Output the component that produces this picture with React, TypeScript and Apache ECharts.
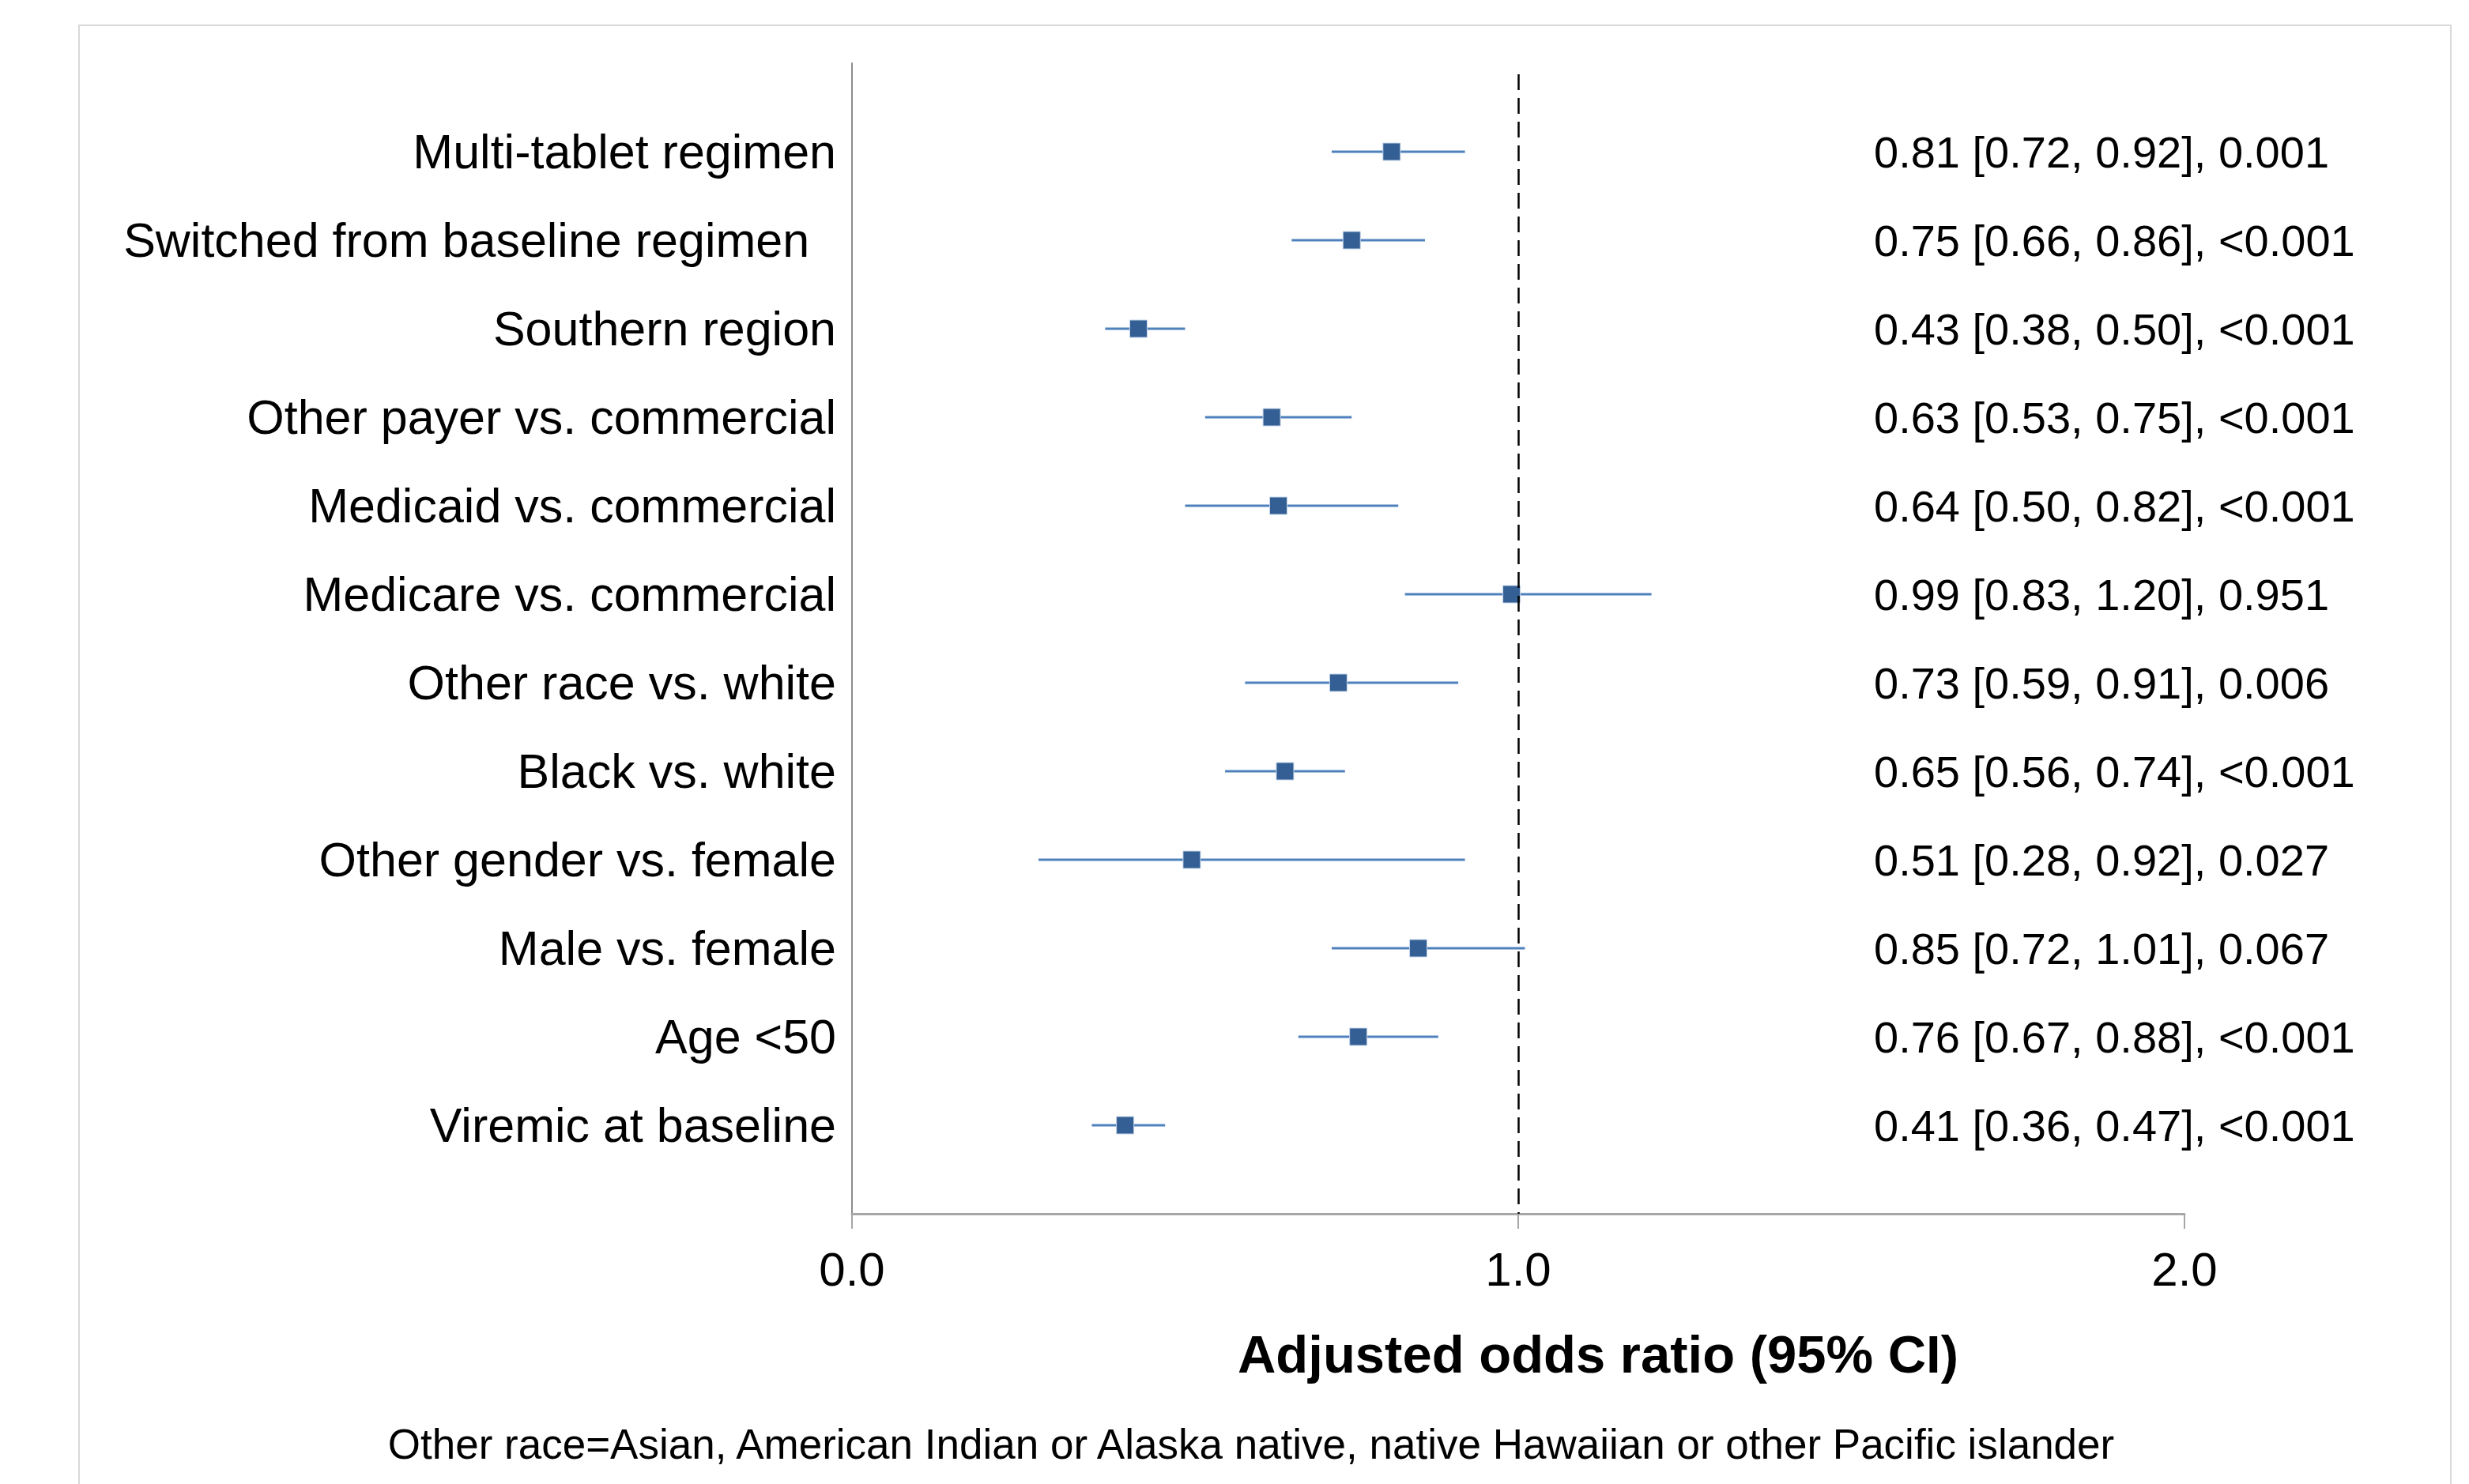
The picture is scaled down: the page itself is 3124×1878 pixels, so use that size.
import React, { useEffect, useRef } from "react";
import * as echarts from "echarts";

const categories = [
  "Multi-tablet regimen",
  "Switched from baseline regimen  ",
  "Southern region",
  "Other payer vs. commercial",
  "Medicaid vs. commercial",
  "Medicare vs. commercial",
  "Other race vs. white",
  "Black vs. white",
  "Other gender vs. female",
  "Male vs. female",
  "Age <50",
  "Viremic at baseline",
];
const oddsRatio = [0.81, 0.75, 0.43, 0.63, 0.64, 0.99, 0.73, 0.65, 0.51, 0.85, 0.76, 0.41];
const ciLow = [0.72, 0.66, 0.38, 0.53, 0.5, 0.83, 0.59, 0.56, 0.28, 0.72, 0.67, 0.36];
const ciHigh = [0.92, 0.86, 0.5, 0.75, 0.82, 1.2, 0.91, 0.74, 0.92, 1.01, 0.88, 0.47];
const pValues = ["0.001", "<0.001", "<0.001", "<0.001", "<0.001", "0.951", "0.006", "<0.001", "0.027", "0.067", "<0.001", "<0.001"];
const xTickLabels = ["0.0", "1.0", "2.0"];
const xAxisTitle = "Adjusted odds ratio (95% CI)";
const footnote = "Other race=Asian, American Indian or Alaska native, native Hawaiian or other Pacific islander";
const referenceValue = 1;

const FONT = "'Liberation Sans', Arial, sans-serif";

export default function App() {
  const ref = useRef<HTMLDivElement>(null);
  useEffect(() => {
    document.body.style.margin = "0";
    const chart = echarts.init(ref.current!, null, { renderer: "svg" });
    const n = categories.length;
    const rowY = (i: number) => n - i;
    const statText = categories.map(
      (_, i) => `${oddsRatio[i].toFixed(2)} [${ciLow[i].toFixed(2)}, ${ciHigh[i].toFixed(2)}], ${pValues[i]}`
    );
    const labelFor = (arr: string[]) => (v: number) => {
      const k = Math.round(v);
      if (k < 1 || k > n) return "";
      return arr[n - k];
    };
    chart.setOption({
      animation: false,
      backgroundColor: "#ffffff",
      textStyle: { fontFamily: FONT },
      graphic: [
        {
          type: "rect",
          shape: { x: 100, y: 32, width: 3001, height: 1900 },
          style: { fill: "none", stroke: "#d9d9d9", lineWidth: 2 },
          silent: true,
        },
        {
          type: "text",
          x: 1583,
          y: 1827,
          style: {
            text: footnote,
            fontFamily: FONT,
            fontSize: 53,
            fill: "#000",
            align: "center",
            verticalAlign: "middle",
          },
        },
      ],
      grid: { left: 1078, right: 360, top: 80, bottom: 342, containLabel: false },
      xAxis: {
        type: "value",
        min: 0,
        max: 2,
        interval: 1,
        name: xAxisTitle,
        nameLocation: "middle",
        nameGap: 144,
        nameTextStyle: {
          fontFamily: FONT,
          fontSize: 67,
          fontWeight: "bold",
          color: "#000",
          padding: [0, 0, 0, 202],
        },
        axisLine: { show: true, lineStyle: { color: "#a6a6a6", width: 3 } },
        axisTick: { show: true, length: 19, lineStyle: { color: "#a6a6a6", width: 2 } },
        axisLabel: {
          fontFamily: FONT,
          fontSize: 60,
          color: "#000",
          margin: 40,
          formatter: (v: number) => xTickLabels[Math.round(v)] ?? "",
        },
        splitLine: { show: false },
      },
      yAxis: [
        {
          type: "value",
          min: 0,
          max: n + 1,
          interval: 1,
          position: "left",
          axisLine: { show: true, lineStyle: { color: "#8c8c8c", width: 2 } },
          axisTick: { show: false },
          splitLine: { show: false },
          axisLabel: {
            fontFamily: FONT,
            fontSize: 61,
            color: "#000",
            margin: 20,
            formatter: labelFor(categories),
          },
        },
        {
          type: "value",
          min: 0,
          max: n + 1,
          interval: 1,
          position: "right",
          offset: -401,
          axisLine: { show: false },
          axisTick: { show: false },
          splitLine: { show: false },
          axisLabel: {
            fontFamily: FONT,
            fontSize: 56,
            color: "#000",
            margin: 8,
            align: "left",
            formatter: labelFor(statText),
          },
        },
      ],
      series: [
        {
          type: "custom",
          name: "CI",
          yAxisIndex: 0,
          data: categories.map((_, i) => [rowY(i), ciLow[i], ciHigh[i]]),
          encode: { x: [1, 2], y: 0 },
          renderItem: (params: any, api: any) => {
            const y = api.value(0);
            const p1 = api.coord([api.value(1), y]);
            const p2 = api.coord([api.value(2), y]);
            return {
              type: "line",
              shape: { x1: p1[0], y1: p1[1], x2: p2[0], y2: p2[1] },
              style: { stroke: "#4f81bd", lineWidth: 3 },
            };
          },
          z: 2,
        },
        {
          type: "scatter",
          name: "OR",
          yAxisIndex: 0,
          symbol: "rect",
          symbolSize: 22,
          data: categories.map((_, i) => [oddsRatio[i], rowY(i)]),
          itemStyle: { color: "#335f95", borderColor: "#c6d5ea", borderWidth: 1, opacity: 1 },
          z: 3,
          markLine: {
            silent: true,
            symbol: "none",
            label: { show: false },
            lineStyle: { color: "#000", type: [20, 10], width: 2.5 },
            data: [[{ coord: [referenceValue, n + 0.875] }, { coord: [referenceValue, 0] }]],
          },
        },
      ],
    });
    return () => chart.dispose();
  }, []);
  return <div ref={ref} style={{ width: 3124, height: 1878 }} />;
}
